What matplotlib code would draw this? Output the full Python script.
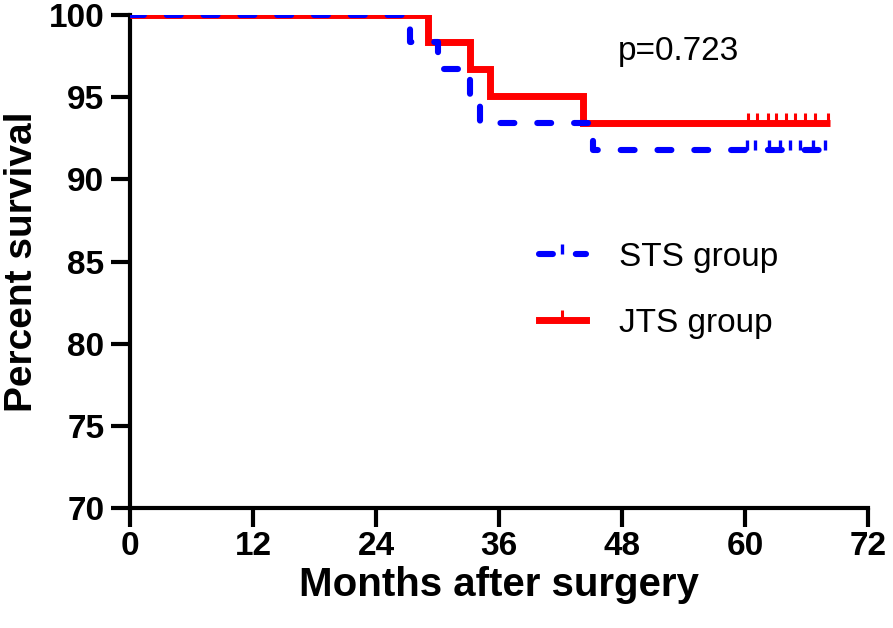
import matplotlib
matplotlib.use("Agg")
import matplotlib.pyplot as plt
from matplotlib.lines import Line2D

plt.rcParams['lines.scale_dashes'] = False

# Data
sts_times = [0, 27.3, 30.0, 33.2, 34.1, 45.2, 68.3]
sts_surv = [100, 98.36, 96.72, 95.08, 93.44, 91.80, 91.80]
sts_censor = [60.2, 61.0, 62.3, 63.4, 64.4, 65.4, 66.6, 67.8]

jts_times = [0, 29.1, 33.2, 35.1, 44.2, 68.3]
jts_surv = [100, 98.36, 96.72, 95.08, 93.44, 93.44]
jts_censor = [60.3, 61.2, 62.2, 63.0, 64.0, 64.9, 65.9, 66.8, 68.1]

xticks = [0, 12, 24, 36, 48, 60, 72]
yticks = [70, 75, 80, 85, 90, 95, 100]

fig = plt.figure(figsize=(8.93, 6.28), dpi=100)
ax = fig.add_axes([130/893, 1-508/628, (868-130)/893, (508-15)/628])

red = '#ff0000'
blue = '#0000ff'

ax.step(jts_times, jts_surv, where='post', color=red, lw=5.0, zorder=3,
        solid_capstyle='butt', solid_joinstyle='miter')
ax.plot(jts_censor, [jts_surv[-1]]*len(jts_censor), linestyle='none',
        marker=2, markersize=7, markeredgewidth=2.2, color=red, zorder=3)

ax.step(sts_times, sts_surv, where='post', color=blue, lw=4.4, zorder=4,
        linestyle=(0, (10, 16.5)), dash_capstyle='round')
ax.plot(sts_censor, [sts_surv[-1]]*len(sts_censor), linestyle='none',
        marker=2, markersize=7, markeredgewidth=2.4, color=blue, zorder=4)

ax.set_xlim(0, 72)
ax.set_ylim(70, 100)
ax.set_xticks(xticks)
ax.set_yticks(yticks)
ax.set_xticklabels([str(t) for t in xticks], fontfamily='Liberation Sans',
                   fontweight='bold', fontsize=24)
ax.set_yticklabels([str(t) for t in yticks], fontfamily='Liberation Sans',
                   fontweight='bold', fontsize=24)

for s in ['top', 'right']:
    ax.spines[s].set_visible(False)
for s in ['left', 'bottom']:
    ax.spines[s].set_linewidth(3)
ax.tick_params(axis='both', which='major', length=13.5, width=3, direction='out')
ax.tick_params(axis='y', pad=5)
ax.tick_params(axis='x', pad=3)

ax.set_xlabel('Months after surgery', fontfamily='Liberation Sans',
              fontweight='bold', fontsize=29, labelpad=3)
ax.set_ylabel('Percent survival', fontfamily='Liberation Sans',
              fontweight='bold', fontsize=28, labelpad=6)

ax.text(53.5, 97.8, 'p=0.723', fontfamily='Liberation Sans', fontsize=24,
        ha='center', va='center')

h_sts = Line2D([], [], color=blue, lw=4.4, linestyle=(0, (10, 16.5)), dash_capstyle='round',
               marker=2, markersize=7, markeredgewidth=2.4)
h_jts = Line2D([], [], color=red, lw=5.0, marker=2, markersize=7, markeredgewidth=2.2)
leg = ax.legend([h_sts, h_jts], ['STS group', 'JTS group'], loc='center left',
                bbox_to_anchor=(0.554, 0.442), frameon=False, handlelength=1.4,
                handletextpad=1.0, labelspacing=1.05, numpoints=1, borderpad=0,
                borderaxespad=0,
                prop={'family': 'Liberation Sans', 'size': 24})

fig.savefig('out.png', dpi=100)
